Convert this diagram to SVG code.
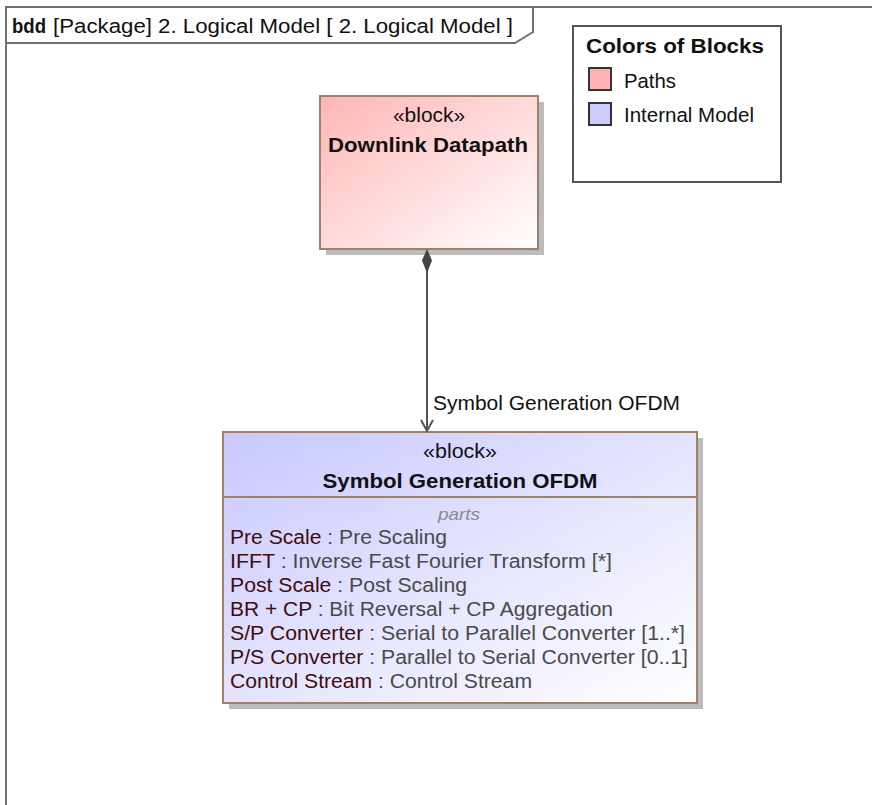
<svg xmlns="http://www.w3.org/2000/svg" width="872" height="805" viewBox="0 0 872 805">
  <style>
    text { font-family: "Liberation Sans", Arial, sans-serif; fill: #111; }
    .frame { fill: none; stroke: #707070; stroke-width: 2; }
    .blk { stroke: #a0806a; stroke-width: 2; }
    .shadow { fill: #bcbcbc; }
    .stereo { font-size: 20px; text-anchor: middle; }
    .title { font-size: 20px; font-weight: bold; text-anchor: middle; }
    .row { font-size: 20px; }
    .pname { fill: #420c0c; }
    .ptype { fill: #4a4a4a; }
    .comp { font-size: 17px; font-style: italic; fill: #8a8a8a; text-anchor: middle; }
    .conn { stroke: #555; stroke-width: 2; fill: none; }
    .legend-item { font-size: 20px; }
  </style>
  <defs>
    <linearGradient id="gradPath" x1="0" y1="0" x2="1" y2="1">
      <stop offset="0" stop-color="#ffb5b5"/>
      <stop offset="1" stop-color="#ffffff"/>
    </linearGradient>
    <linearGradient id="gradInternal" x1="0" y1="0" x2="1" y2="1">
      <stop offset="0" stop-color="#c8c8ff"/>
      <stop offset="1" stop-color="#ffffff"/>
    </linearGradient>
  </defs>

  <rect width="872" height="805" fill="#ffffff"/>

  <!-- diagram frame with name tab -->
  <g id="frame">
    <path class="frame" d="M6 805 V7 H872"/>
    <path class="frame" d="M6 43 H515 L533 32 V7"/>
    <text x="12" y="33" font-size="20" font-weight="bold" textLength="34" lengthAdjust="spacingAndGlyphs">bdd</text>
    <text x="53" y="33" font-size="20" textLength="460" lengthAdjust="spacingAndGlyphs">[Package] 2. Logical Model [ 2. Logical Model ]</text>
  </g>

  <!-- legend -->
  <g id="legend">
    <rect x="573" y="26" width="208" height="156" fill="#fff" stroke="#555" stroke-width="2"/>
    <text x="586" y="53" font-size="20" font-weight="bold" textLength="178" lengthAdjust="spacingAndGlyphs">Colors of Blocks</text>
    <rect x="589" y="68" width="22" height="22" fill="#ffb3b3" stroke="#333" stroke-width="2"/>
    <text class="legend-item" x="624" y="88" textLength="52" lengthAdjust="spacingAndGlyphs">Paths</text>
    <rect x="589" y="103" width="22" height="22" fill="#ccccff" stroke="#333" stroke-width="2"/>
    <text class="legend-item" x="624" y="122" textLength="130" lengthAdjust="spacingAndGlyphs">Internal Model</text>
  </g>

  <!-- Downlink Datapath block -->
  <g id="downlink-datapath">
    <rect class="shadow" x="326" y="102" width="218" height="153"/>
    <rect class="blk" x="320" y="96" width="218" height="153" fill="url(#gradPath)"/>
    <text class="stereo" x="429" y="122" textLength="72" lengthAdjust="spacingAndGlyphs">«block»</text>
    <text class="title" x="428" y="152" textLength="200" lengthAdjust="spacingAndGlyphs">Downlink Datapath</text>
  </g>

  <!-- Symbol Generation OFDM block -->
  <g id="symbol-generation-ofdm">
    <rect class="shadow" x="229" y="438" width="474" height="271"/>
    <rect class="blk" x="223" y="432" width="474" height="271" fill="url(#gradInternal)"/>
    <line class="blk" x1="223" y1="497" x2="697" y2="497"/>
    <text class="stereo" x="460" y="458" textLength="74" lengthAdjust="spacingAndGlyphs">«block»</text>
    <text class="title" x="460" y="488" textLength="275" lengthAdjust="spacingAndGlyphs">Symbol Generation OFDM</text>
    <text class="comp" x="459" y="520" textLength="42" lengthAdjust="spacingAndGlyphs">parts</text>
    <text class="row" x="230" y="544" textLength="217" lengthAdjust="spacingAndGlyphs"><tspan class="pname">Pre Scale</tspan><tspan class="ptype"> : Pre Scaling</tspan></text>
    <text class="row" x="230" y="568" textLength="382" lengthAdjust="spacingAndGlyphs"><tspan class="pname">IFFT</tspan><tspan class="ptype"> : Inverse Fast Fourier Transform [*]</tspan></text>
    <text class="row" x="230" y="592" textLength="237" lengthAdjust="spacingAndGlyphs"><tspan class="pname">Post Scale</tspan><tspan class="ptype"> : Post Scaling</tspan></text>
    <text class="row" x="230" y="616" textLength="383" lengthAdjust="spacingAndGlyphs"><tspan class="pname">BR + CP</tspan><tspan class="ptype"> : Bit Reversal + CP Aggregation</tspan></text>
    <text class="row" x="230" y="640" textLength="455" lengthAdjust="spacingAndGlyphs"><tspan class="pname">S/P Converter</tspan><tspan class="ptype"> : Serial to Parallel Converter [1..*]</tspan></text>
    <text class="row" x="230" y="664" textLength="458" lengthAdjust="spacingAndGlyphs"><tspan class="pname">P/S Converter</tspan><tspan class="ptype"> : Parallel to Serial Converter [0..1]</tspan></text>
    <text class="row" x="230" y="688" textLength="302" lengthAdjust="spacingAndGlyphs"><tspan class="pname">Control Stream</tspan><tspan class="ptype"> : Control Stream</tspan></text>
  </g>

  <!-- composition: filled diamond at the owner, open arrow at the part -->
  <g id="connectors">
    <line class="conn" x1="427" y1="262" x2="427" y2="431"/>
    <path d="M427 249 L432 260.5 L427 273 L422 260.5 Z" fill="#444"/>
    <path class="conn" d="M421 420 L427 431 L433 420"/>
    <text x="433" y="410" font-size="20" textLength="247" lengthAdjust="spacingAndGlyphs">Symbol Generation OFDM</text>
  </g>
</svg>
